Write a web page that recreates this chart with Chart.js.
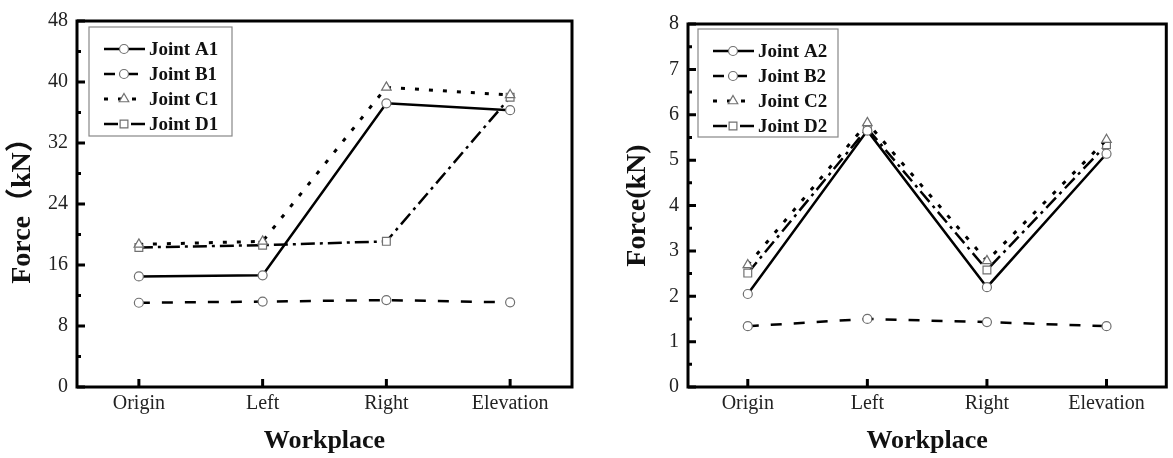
<!DOCTYPE html>
<html>
<head>
<meta charset="utf-8">
<script src="https://cdn.jsdelivr.net/npm/chart.js@4.4.0/dist/chart.umd.min.js"></script>
<style>
    body { margin: 0; background: #fff; width: 1173px; height: 458px; overflow: hidden; position: relative; }
    .panel { position: absolute; top: 0; height: 458px; }
    #panel1 { left: 0; width: 590px; }
    #panel2 { left: 590px; width: 583px; }
</style>
</head>
<body>
<div class="panel" id="panel1"><canvas id="chart1" width="590" height="458"></canvas></div>
<div class="panel" id="panel2"><canvas id="chart2" width="583" height="458"></canvas></div>
<script>
const workplaces = ['Origin', 'Left', 'Right', 'Elevation'];

const jointA1 = [14.5, 14.65, 37.2, 36.3];
const jointB1 = [11.05, 11.2, 11.4, 11.1];
const jointC1 = [18.7, 19.1, 39.3, 38.3];
const jointD1 = [18.3, 18.6, 19.1, 38.0];

const jointA2 = [2.05, 5.65, 2.2, 5.14];
const jointB2 = [1.34, 1.5, 1.43, 1.34];
const jointC2 = [2.69, 5.82, 2.78, 5.45];
const jointD2 = [2.51, 5.7, 2.58, 5.34];

const yTicks1 = [0, 8, 16, 24, 32, 40, 48];
const yTicks2 = [0, 1, 2, 3, 4, 5, 6, 7, 8];

const SERIF = '"Liberation Serif", "Times New Roman", serif';

document.addEventListener('DOMContentLoaded', function () {

    // frame, inward ticks (major + minor), axis titles and the boxed legend
    const decorPlugin = {
        id: 'decor',
        afterDraw(chart, args, opts) {
            const ctx = chart.ctx;
            const area = chart.chartArea;
            const xs = chart.scales.x;
            const ys = chart.scales.y;
            const ticks = opts.ticks;

            ctx.save();
            ctx.strokeStyle = '#000';
            ctx.lineWidth = 3;
            ctx.strokeRect(area.left, area.top, area.right - area.left, area.bottom - area.top);

            ctx.lineWidth = 3;
            ctx.beginPath();
            ticks.forEach((v, i) => {
                const y = ys.getPixelForValue(v);
                ctx.moveTo(area.left, y);
                ctx.lineTo(area.left + 8, y);
                if (i < ticks.length - 1) {
                    const ym = ys.getPixelForValue((v + ticks[i + 1]) / 2);
                    ctx.moveTo(area.left, ym);
                    ctx.lineTo(area.left + 4, ym);
                }
            });
            workplaces.forEach((w, i) => {
                const x = xs.getPixelForValue(i);
                ctx.moveTo(x, area.bottom);
                ctx.lineTo(x, area.bottom - 8);
            });
            ctx.stroke();

            // axis titles
            ctx.fillStyle = '#111';
            ctx.textAlign = 'center';
            ctx.textBaseline = 'middle';
            ctx.font = 'bold 26px ' + SERIF;
            ctx.fillText('Workplace', (area.left + area.right) / 2, 441);
            ctx.save();
            ctx.translate(opts.yTitleX, (area.top + area.bottom) / 2);
            ctx.rotate(-Math.PI / 2);
            ctx.font = 'bold 28px ' + SERIF + ', "Noto Sans CJK SC"';
            ctx.fillText(opts.yTitle, 0, 0);
            ctx.restore();

            // legend
            const lx = opts.legendX, ly = opts.legendY;
            ctx.strokeStyle = '#888';
            ctx.lineWidth = 1.2;
            ctx.strokeRect(lx, ly, opts.legendW, opts.legendH);
            ctx.font = 'bold 19px ' + SERIF;
            ctx.textAlign = 'left';
            chart.data.datasets.forEach((ds, i) => {
                const y = ly + 22 + i * 25;
                ctx.save();
                ctx.strokeStyle = '#000';
                ctx.lineWidth = ds.borderWidth;
                ctx.setLineDash(ds.borderDash || []);
                ctx.beginPath();
                ctx.moveTo(lx + 15, y);
                ctx.lineTo(lx + 56, y);
                ctx.stroke();
                ctx.setLineDash([]);
                ctx.fillStyle = '#fff';
                ctx.strokeStyle = ds.pointBorderColor;
                ctx.lineWidth = ds.pointBorderWidth;
                Chart.helpers.drawPoint(ctx, {
                    pointStyle: ds.pointStyle,
                    radius: ds.pointRadius,
                    rotation: 0,
                    borderWidth: ds.pointBorderWidth
                }, lx + 35, y);
                ctx.restore();
                ctx.fillStyle = '#111';
                ctx.fillText(ds.label, lx + 60, y + 1);
            });
            ctx.restore();
        }
    };

    function series(label, data, style, dash, width) {
        return {
            label: label,
            data: data,
            borderColor: '#000',
            borderWidth: width,
            borderDash: dash,
            pointStyle: style,
            pointRadius: style === 'circle' ? 4.5 : 5.5,
            pointBackgroundColor: '#fff',
            pointBorderColor: '#707070',
            pointBorderWidth: 1.2,
            tension: 0,
            fill: false
        };
    }

    function makeChart(canvasId, sets, yTicks, padRight, axisWidth, decor) {
        const ctx = document.getElementById(canvasId).getContext('2d');
        return new Chart(ctx, {
            type: 'line',
            data: { labels: workplaces, datasets: sets },
            options: {
                responsive: false,
                animation: false,
                devicePixelRatio: 1,
                layout: { padding: { top: decor.top, right: padRight, left: 0, bottom: 0 } },
                plugins: { legend: { display: false }, tooltip: { enabled: false }, decor: decor },
                scales: {
                    x: {
                        offset: true,
                        grid: { display: false, drawTicks: false },
                        border: { display: false },
                        ticks: { color: '#222', padding: 5, font: { family: SERIF, size: 20 } },
                        afterFit: s => { s.height = 458 - 387; }
                    },
                    y: {
                        min: yTicks[0],
                        max: yTicks[yTicks.length - 1],
                        afterBuildTicks: s => { s.ticks = yTicks.map(v => ({ value: v })); },
                        grid: { display: false, drawTicks: false },
                        border: { display: false },
                        ticks: { color: '#222', padding: 9, font: { family: SERIF, size: 20 } },
                        afterFit: s => { s.width = axisWidth; }
                    }
                }
            },
            plugins: [decorPlugin]
        });
    }

    makeChart('chart1', [
        series('Joint A1', jointA1, 'circle', [], 2.5),
        series('Joint B1', jointB1, 'circle', [11, 12], 2.5),
        series('Joint C1', jointC1, 'triangle', [4, 10], 3),
        series('Joint D1', jointD1, 'rect', [14, 5, 3, 5], 2.5)
    ], yTicks1, 18, 77, {
        top: 17, ticks: yTicks1, yTitle: 'Force（kN）', yTitleX: 23,
        legendX: 89, legendY: 27, legendW: 143, legendH: 109
    });

    makeChart('chart2', [
        series('Joint A2', jointA2, 'circle', [], 2.5),
        series('Joint B2', jointB2, 'circle', [11, 12], 2.5),
        series('Joint C2', jointC2, 'triangle', [4, 10], 3),
        series('Joint D2', jointD2, 'rect', [14, 5, 3, 5], 2.5)
    ], yTicks2, 1, 98, {
        top: 24, ticks: yTicks2, yTitle: 'Force(kN)', yTitleX: 48,
        legendX: 108, legendY: 29, legendW: 140, legendH: 108
    });
});
</script>
</body>
</html>
